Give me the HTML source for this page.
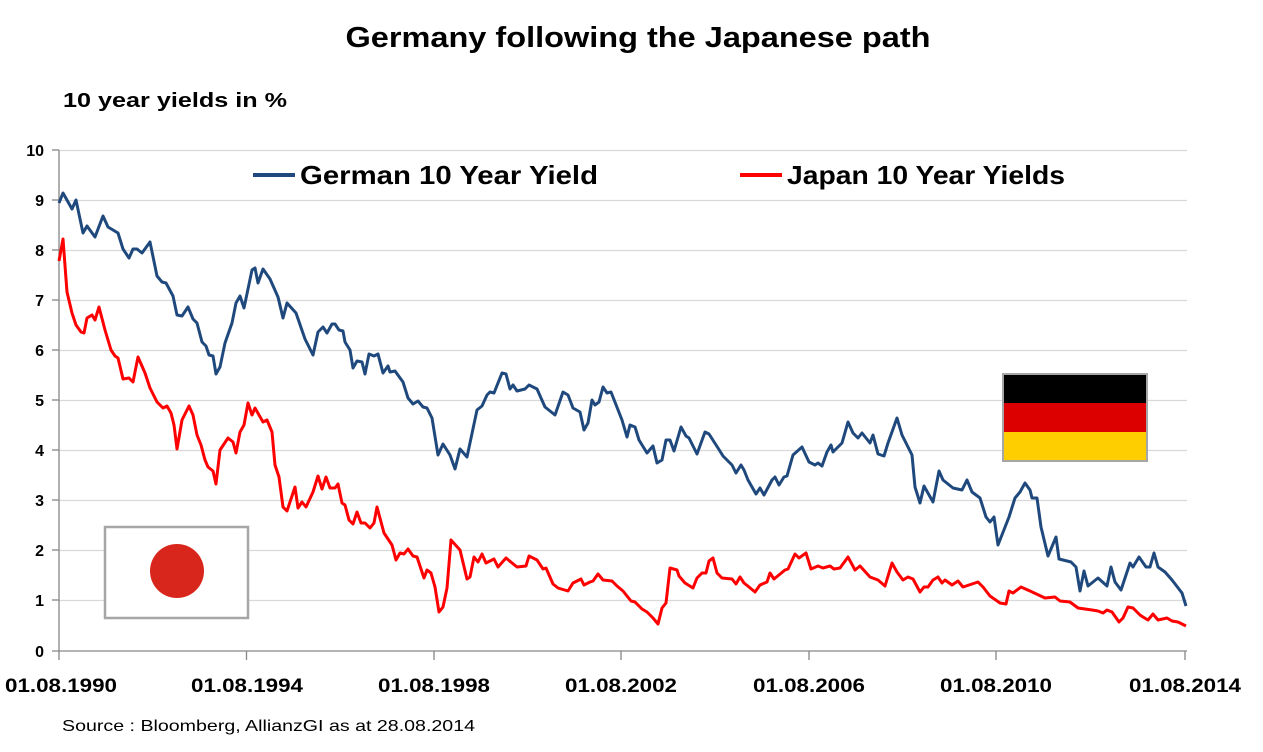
<!DOCTYPE html>
<html><head><meta charset="utf-8"><style>html,body{margin:0;padding:0;background:#fff}svg{display:block}</style></head><body>
<svg width="1263" height="752" viewBox="0 0 1263 752" xmlns="http://www.w3.org/2000/svg" font-family="Liberation Sans, sans-serif">
<text x="638" y="47" text-anchor="middle" font-size="29" font-weight="bold" textLength="585" lengthAdjust="spacingAndGlyphs">Germany following the Japanese path</text>
<text x="63" y="107" font-size="20" font-weight="bold" textLength="224" lengthAdjust="spacingAndGlyphs">10 year yields in %</text>
<g stroke="#d9d9d9" stroke-width="1.2">
<line x1="59" x2="1187" y1="150.5" y2="150.5"/><line x1="59" x2="1187" y1="200.5" y2="200.5"/><line x1="59" x2="1187" y1="250.5" y2="250.5"/><line x1="59" x2="1187" y1="300.5" y2="300.5"/><line x1="59" x2="1187" y1="350.5" y2="350.5"/><line x1="59" x2="1187" y1="400.5" y2="400.5"/><line x1="59" x2="1187" y1="450.5" y2="450.5"/><line x1="59" x2="1187" y1="500.5" y2="500.5"/><line x1="59" x2="1187" y1="550.5" y2="550.5"/><line x1="59" x2="1187" y1="600.5" y2="600.5"/>
</g>
<g stroke="#868686" stroke-width="1.3">
<line x1="59" x2="59" y1="150" y2="660"/><line x1="52" x2="1187" y1="651" y2="651"/>
<line x1="52" x2="59" y1="150" y2="150"/><line x1="52" x2="59" y1="200" y2="200"/><line x1="52" x2="59" y1="250" y2="250"/><line x1="52" x2="59" y1="300" y2="300"/><line x1="52" x2="59" y1="350" y2="350"/><line x1="52" x2="59" y1="400" y2="400"/><line x1="52" x2="59" y1="450" y2="450"/><line x1="52" x2="59" y1="500" y2="500"/><line x1="52" x2="59" y1="550" y2="550"/><line x1="52" x2="59" y1="600" y2="600"/>
<line x1="246.5" x2="246.5" y1="651" y2="660"/><line x1="434" x2="434" y1="651" y2="660"/><line x1="621" x2="621" y1="651" y2="660"/><line x1="809" x2="809" y1="651" y2="660"/><line x1="996" x2="996" y1="651" y2="660"/><line x1="1185" x2="1185" y1="651" y2="660"/>
</g>
<g font-size="16" font-weight="bold" text-anchor="end">
<text x="44" y="156">10</text><text x="44" y="206">9</text><text x="44" y="256">8</text><text x="44" y="306">7</text><text x="44" y="356">6</text><text x="44" y="406">5</text><text x="44" y="456">4</text><text x="44" y="506">3</text><text x="44" y="556">2</text><text x="44" y="606">1</text><text x="44" y="657">0</text>
</g>
<g font-size="19" font-weight="bold" text-anchor="middle">
<text x="61" y="692" textLength="112" lengthAdjust="spacingAndGlyphs">01.08.1990</text>
<text x="247" y="692" textLength="112" lengthAdjust="spacingAndGlyphs">01.08.1994</text>
<text x="434" y="692" textLength="112" lengthAdjust="spacingAndGlyphs">01.08.1998</text>
<text x="621" y="692" textLength="112" lengthAdjust="spacingAndGlyphs">01.08.2002</text>
<text x="809" y="692" textLength="112" lengthAdjust="spacingAndGlyphs">01.08.2006</text>
<text x="996" y="692" textLength="112" lengthAdjust="spacingAndGlyphs">01.08.2010</text>
<text x="1185" y="692" textLength="112" lengthAdjust="spacingAndGlyphs">01.08.2014</text>
</g>
<text x="62" y="731" font-size="16" textLength="413" lengthAdjust="spacingAndGlyphs">Source : Bloomberg, AllianzGI as at 28.08.2014</text>
<line x1="253" x2="295" y1="175" y2="175" stroke="#1f497d" stroke-width="4"/>
<text x="300" y="184" font-size="26" font-weight="bold" textLength="298" lengthAdjust="spacingAndGlyphs">German 10 Year Yield</text>
<line x1="740" x2="782" y1="175" y2="175" stroke="#ff0000" stroke-width="4"/>
<text x="787" y="184" font-size="26" font-weight="bold" textLength="278" lengthAdjust="spacingAndGlyphs">Japan 10 Year Yields</text>
<rect x="105" y="527" width="143" height="91" fill="#fff" stroke="#a6a6a6" stroke-width="2.5"/>
<circle cx="177" cy="571" r="27" fill="#d9261c"/>
<rect x="1003" y="374" width="144" height="29" fill="#000"/>
<rect x="1003" y="403" width="144" height="29" fill="#dd0000"/>
<rect x="1003" y="432" width="144" height="29" fill="#ffce00"/>
<rect x="1003" y="374" width="144" height="87" fill="none" stroke="#a6a6a6" stroke-width="2"/>
<polyline fill="none" stroke="#1f497d" stroke-width="3" stroke-linejoin="round" points="59,203 63,193 72,209 76,200 83,233 87,226 95,237 103,216 108,227 118,233 123,249 129,258 133,249 137,249 142,253 150,242 157,276 162,282 166,283 173,296 177,315 182,316 188,307 193,319 197,323 202,342 206,346 209,355 213,356 216,374 220,367 225,343 232,323 236,303 240,296 244,308 252,270 255,268 258,283 263,269 270,279 278,297 283,318 287,303 296,313 305,339 313,355 318,332 323,327 327,333 332,324 335,324 339,330 343,331 345,342 350,350 353,368 357,361 362,362 365,374 369,354 374,356 378,354 383,373 388,366 390,372 395,371 403,382 408,398 413,404 418,401 423,407 427,408 432,418 438,455 443,444 450,455 455,469 460,449 467,457 477,410 482,406 487,395 490,392 494,393 502,373 506,374 510,389 513,385 517,391 525,389 529,385 537,389 545,407 555,415 563,392 568,395 573,408 580,412 584,430 588,423 592,400 595,405 599,402 603,387 607,393 611,392 622,420 627,437 630,425 635,427 639,440 647,453 653,446 657,463 662,460 666,440 670,440 674,451 681,427 686,436 689,438 697,454 705,432 709,434 718,448 723,456 732,465 736,473 741,465 744,470 748,480 756,494 760,488 764,495 772,480 775,477 779,485 784,477 787,476 793,455 802,447 809,462 815,465 818,463 822,466 827,452 831,445 833,452 842,443 848,422 853,433 858,438 862,433 870,443 873,435 878,454 884,456 888,443 897,418 902,435 912,455 915,487 920,503 924,486 933,502 939,471 943,480 953,488 962,490 967,480 972,492 980,498 986,517 990,522 994,517 998,545 1009,517 1015,498 1020,492 1025,483 1030,490 1032,498 1037,498 1041,527 1048,556 1056,537 1059,559 1071,562 1076,567 1080,591 1084,571 1088,586 1098,578 1107,586 1111,567 1115,582 1121,590 1130,563 1133,567 1139,557 1146,567 1150,567 1154,553 1158,567 1165,572 1172,580 1182,593 1186,606"/>
<polyline fill="none" stroke="#ff0000" stroke-width="3" stroke-linejoin="round" points="59,261 63,239 67,292 72,313 76,325 81,332 84,333 87,318 92,315 95,320 99,307 105,330 111,350 115,356 118,358 123,379 129,378 133,382 138,357 145,373 150,388 157,402 163,408 167,406 171,413 174,425 177,449 182,420 189,406 193,415 197,435 201,445 205,460 208,467 213,471 216,484 220,450 228,438 233,442 236,453 240,432 244,425 248,403 252,415 255,408 263,422 267,420 272,432 275,465 279,477 283,507 287,511 295,487 298,508 302,502 306,507 313,492 318,476 322,489 326,477 330,488 335,488 338,484 342,503 345,505 349,520 353,524 357,512 361,523 365,523 370,528 374,523 377,507 384,533 392,545 396,560 400,553 404,554 408,549 413,556 417,557 424,578 427,570 431,573 435,587 439,612 443,607 447,588 451,540 460,550 467,579 470,577 474,557 478,562 482,554 486,563 494,559 498,567 506,558 517,567 526,566 529,556 537,560 543,569 546,568 553,584 558,588 568,591 573,583 581,579 584,585 590,582 593,581 598,574 603,580 612,581 617,586 623,591 631,601 635,602 642,609 647,612 653,618 658,624 662,608 666,603 670,568 677,570 679,576 685,583 693,588 697,578 702,573 706,573 709,561 713,558 717,573 722,578 732,579 736,584 740,577 744,583 749,587 755,592 760,585 767,582 770,573 774,579 785,570 788,569 795,554 799,558 806,553 811,569 818,566 823,568 830,566 834,569 840,568 848,557 855,570 860,566 870,577 878,580 885,586 892,563 897,572 903,580 908,577 913,579 920,592 924,587 928,587 933,580 938,577 942,583 945,580 952,585 958,581 963,587 972,584 978,582 983,587 990,596 1000,603 1006,604 1009,591 1013,593 1021,587 1030,591 1045,598 1055,597 1060,601 1070,602 1078,608 1085,609 1092,610 1098,611 1103,613 1107,610 1112,612 1119,622 1123,618 1128,607 1133,608 1140,615 1143,617 1148,620 1153,614 1158,620 1167,618 1172,621 1178,622 1186,626"/>
</svg>
</body></html>
